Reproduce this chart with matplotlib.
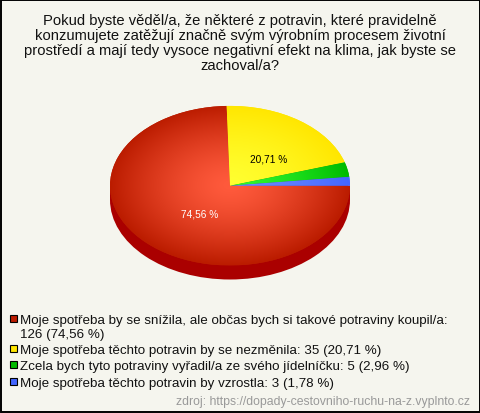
import numpy as np
import matplotlib
matplotlib.use('Agg')
import matplotlib.pyplot as plt
from matplotlib.colors import LinearSegmentedColormap
from matplotlib.patches import Ellipse, Rectangle

plt.rcParams['font.family'] = ['Liberation Sans', 'DejaVu Sans']

title = ('Pokud byste věděl/a, že některé z potravin, které pravidelně\n'
         'konzumujete zatěžují značně svým výrobním procesem životní\n'
         'prostředí a mají tedy vysoce negativní efekt na klima, jak byste se\n'
         'zachoval/a?')
labels = ['Moje spotřeba by se snížila, ale občas bych si takové potraviny koupil/a:',
          'Moje spotřeba těchto potravin by se nezměnila:',
          'Zcela bych tyto potraviny vyřadil/a ze svého jídelníčku:',
          'Moje spotřeba těchto potravin by vzrostla:']
counts = [126, 35, 5, 3]
percents = ['74,56 %', '20,71 %', '2,96 %', '1,78 %']
source = 'zdroj: https://dopady-cestovniho-ruchu-na-z.vyplnto.cz'

bg = '#f5f5ee'
inner = ['#ff5a3c', '#ffff30', '#30f830', '#6c8cff']
outer = ['#bb1c00', '#ffe600', '#00bb00', '#4466ff']
side = '#aa0000'

W, H = 480, 414
fig = plt.figure(figsize=(W / 100, H / 100), dpi=100, facecolor=bg)

# whole figure in pixel coordinates, for text and the pie's side
bgax = fig.add_axes([0, 0, 1, 1])
bgax.set_xlim(0, W)
bgax.set_ylim(H, 0)
bgax.axis('off')
bgax.add_patch(Rectangle((0.5, 0.5), W - 1, H - 1, fc=bg, ec='black', lw=1.4))

cx, cy, rx, ry, depth = 230, 186.7, 120, 79.8, 14
bgax.add_patch(Ellipse((cx, cy + depth), 2 * rx, 2 * ry, fc=side, ec='none'))
bgax.add_patch(Rectangle((cx - rx, cy), 2 * rx, depth, fc=side, ec='none'))

# pie top squeezed into its own axes so the circle turns into an ellipse
ax = fig.add_axes([(cx - rx) / W, 1 - (cy + ry) / H, 2 * rx / W, 2 * ry / H])
wedges, _ = ax.pie(counts, startangle=0, counterclock=False, radius=1,
                   colors=outer, wedgeprops={'linewidth': 0})
ax.set_aspect('auto')
ax.set_xlim(-1, 1)
ax.set_ylim(-1, 1)
ax.patch.set_alpha(0)

gx, gy = np.meshgrid(np.linspace(-1, 1, 400), np.linspace(-1, 1, 400))
dist = np.clip(np.hypot(gx, gy), 0, 1) ** 1.4
for w, c0, c1 in zip(wedges, inner, outer):
    cmap = LinearSegmentedColormap.from_list('g', [c0, c1])
    im = ax.imshow(dist, cmap=cmap, extent=(-1, 1, -1, 1), origin='lower',
                   vmin=0, vmax=1, aspect='auto', zorder=2)
    im.set_clip_path(w)

ax.text(-0.255, -0.345, percents[0], color='white', fontsize=7.3, ha='center', va='center', zorder=3)
ax.text(0.32, 0.345, percents[1], color='black', fontsize=7.3, ha='center', va='center', zorder=3)

bgax.text(240, 43.5, title, fontsize=10.6, ha='center', va='center',
          linespacing=1.09, color='#111111')

rows = [320, 350, 366, 383]
for lab, n, p, y, col in zip(labels, counts, percents, rows, outer):
    txt = f'{lab} {n} ({p})'
    if len(txt) > 80:
        txt = f'{lab}\n{n} ({p})'
    bgax.add_patch(Rectangle((9.5, y - 4), 7, 7, fc=col, ec='black', lw=0.8))
    bgax.text(20, y - 5, txt, fontsize=9.6, ha='left', va='top',
              linespacing=1.26, color='#111111')

bgax.text(470, 402.5, source, fontsize=8.8, ha='right', va='center', color='#999999')

fig.savefig('out.png', dpi=100, facecolor=bg)
